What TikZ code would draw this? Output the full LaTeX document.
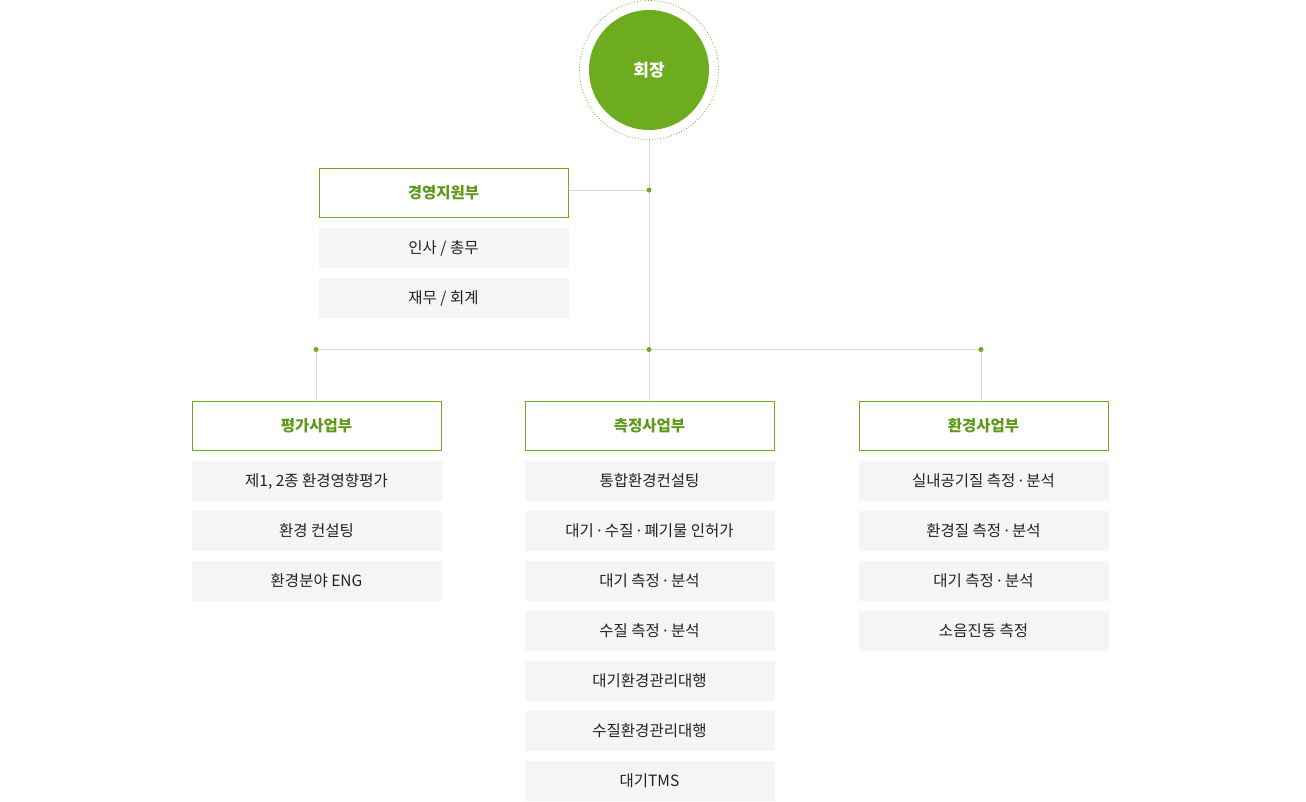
\documentclass[tikz,border=0pt]{standalone}
\usepackage{fontspec}
\setmainfont{Noto Sans CJK KR}
\newfontfamily\latinfont{Noto Sans}
\newcommand{\md}{{\latinfont ·}}
\definecolor{gr}{HTML}{6DAC1F}
\definecolor{grtxt}{HTML}{5E9A18}
\definecolor{itemfill}{HTML}{F4F5F4}
\definecolor{ln}{HTML}{D9D9D9}
\definecolor{txt}{HTML}{222222}
\begin{document}
\begin{tikzpicture}[x=1pt,y=-1pt,
  head/.style={draw=gr,line width=1pt,fill=white,minimum width=249pt,minimum height=49pt,inner sep=0pt,text height=13pt,text depth=2pt,font=\fontsize{15.5}{18}\selectfont\bfseries,text=grtxt},
  item/.style={fill=itemfill,minimum width=250pt,minimum height=40pt,inner sep=0pt,text height=14pt,text depth=2pt,font=\fontsize{15.5}{18}\selectfont,text=txt},
  conn/.style={draw=ln,line width=1pt},
  dot/.style={circle,fill=gr,inner sep=0pt,minimum size=5pt}]
\useasboundingbox (0,0) rectangle (1306,801);
% top
\node[circle,draw=gr,dotted,line width=0.8pt,minimum size=139pt,inner sep=0pt] (ring) at (649,70) {};
\node[circle,fill=gr,minimum size=120pt,inner sep=0pt,text=white,font=\fontsize{17}{20}\selectfont\bfseries] (ceo) at (649,70) {회장};
\coordinate (j1) at (649,190);
\coordinate (j2) at (649,349.5);
\coordinate (jl) at (316,349.5);
\coordinate (jr) at (981,349.5);
% support
\node[head] (sup) at (443.5,192.5) {경영지원부};
\node[item] (s1) at (443.5,247.5) {인사 / 총무};
\node[item] (s2) at (443.5,297.5) {재무 / 회계};
% headers
\node[head] (h1) at (316.5,425.5) {평가사업부};
\node[head] (h2) at (649.5,425.5) {측정사업부};
\node[head] (h3) at (983.5,425.5) {환경사업부};
% connectors
\draw[conn] (ring.south) -- (j2);
\draw[conn] (sup.east |- j1) -- (j1);
\draw[conn] (jl) -- (jr);
\draw[conn] (jl) -- (jl |- h1.north);
\draw[conn] (j2) -- (j2 |- h2.north);
\draw[conn] (jr) -- (jr |- h3.north);
\node[dot] (d1) at (j1) {};
\node[dot] (d2) at (j2) {};
\node[dot] (d3) at (jl) {};
\node[dot] (d4) at (jr) {};
% column 1
\node[item] (a1) at (316.5,480.5) {제1, 2종 환경영향평가};
\node[item] (a2) at (316.5,530.5) {환경 컨설팅};
\node[item] (a3) at (316.5,580.5) {환경분야 ENG};
% column 2
\node[item] (b1) at (649.5,480.5) {통합환경컨설팅};
\node[item] (b2) at (649.5,530.5) {대기 \md{} 수질 \md{} 폐기물 인허가};
\node[item] (b3) at (649.5,580.5) {대기 측정 \md{} 분석};
\node[item] (b4) at (649.5,630.5) {수질 측정 \md{} 분석};
\node[item] (b5) at (649.5,680.5) {대기환경관리대행};
\node[item] (b6) at (649.5,730.5) {수질환경관리대행};
\node[item] (b7) at (649.5,780.5) {대기TMS};
% column 3
\node[item] (c1) at (983.5,480.5) {실내공기질 측정 \md{} 분석};
\node[item] (c2) at (983.5,530.5) {환경질 측정 \md{} 분석};
\node[item] (c3) at (983.5,580.5) {대기 측정 \md{} 분석};
\node[item] (c4) at (983.5,630.5) {소음진동 측정};
\end{tikzpicture}
\end{document}
